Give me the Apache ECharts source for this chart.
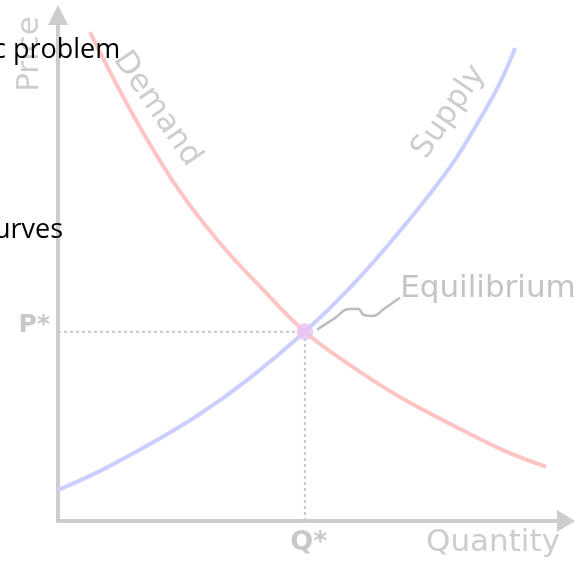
<!DOCTYPE html>
<html>
<head>
<meta charset="utf-8">
<script src="https://cdn.jsdelivr.net/npm/echarts@6/dist/echarts.min.js"></script>
<style>html,body{margin:0;padding:0;background:#fff}#c{width:578px;height:561px}</style>
</head>
<body>
<div id="c"></div>
<script>
// Supply curve (quantity, price)
const supplyQ = [0, 0.83, 1.81, 2.80, 3.78, 4.86, 5.75, 6.73, 7.72, 8.31, 8.70, 9.00];
const supplyP = [0.61, 0.99, 1.52, 2.12, 2.83, 3.74, 4.61, 5.73, 7.00, 7.95, 8.66, 9.35];
// Demand curve (quantity, price)
const demandQ = [0.63, 1.48, 2.34, 3.19, 3.98, 4.86, 5.75, 6.73, 7.72, 8.76, 9.61];
const demandP = [9.66, 8.02, 6.60, 5.49, 4.63, 3.74, 3.08, 2.45, 1.92, 1.40, 1.07];
// Equilibrium
const eqQ = 4.86, eqP = 3.74;
// Leader line from equilibrium point to its label
const leaderQ = [5.10, 5.45, 5.75, 5.91, 6.02, 6.18, 6.44, 6.73];
const leaderP = [3.78, 4.01, 4.19, 4.19, 4.07, 4.05, 4.21, 4.41];
// Tick labels
const xTickLabels = ['Q*'];
const yTickLabels = ['P*'];
const axisNames = { x: 'Quantity', y: 'Price' };
const curveNames = { supply: 'Supply', demand: 'Demand', eq: 'Equilibrium' };
const docText = ['c problem', 'urves'];

const zip = (a, b) => a.map((v, i) => [v, b[i]]);
const gray = '#cdcdcd';
const labelFont = '31px "DejaVu Sans"';

const chart = echarts.init(document.getElementById('c'), null, { renderer: 'canvas' });
chart.setOption({
  animation: false,
  grid: { left: 58, right: 12, top: 15, bottom: 40, containLabel: false },
  xAxis: {
    type: 'value', min: 0, max: 10,
    axisLine: { show: true, symbol: ['none', 'triangle'], symbolSize: [22, 18],
      lineStyle: { color: gray, width: 4 } },
    axisTick: { show: false }, splitLine: { show: false },
    axisLabel: { customValues: [eqQ], formatter: () => xTickLabels[0],
      color: '#c8c8c8', fontFamily: 'DejaVu Sans', fontWeight: 'bold', fontSize: 27, margin: 8, padding: [0, 0, 0, 8] }
  },
  yAxis: {
    type: 'value', min: 0, max: 10,
    axisLine: { show: true, symbol: ['none', 'triangle'], symbolSize: [20, 20],
      lineStyle: { color: gray, width: 4 } },
    axisTick: { show: false }, splitLine: { show: false },
    axisLabel: { customValues: [eqP], formatter: () => yTickLabels[0],
      color: '#c8c8c8', fontFamily: 'DejaVu Sans', fontWeight: 'bold', fontSize: 25, lineHeight: 12, margin: 8, verticalAlign: 'bottom' }
  },
  series: [
    { type: 'line', data: [[0, eqP], [eqQ, eqP]], symbol: 'none', silent: true,
      lineStyle: { color: '#c8c8c8', width: 2, type: [3, 3] }, z: 1 },
    { type: 'line', data: [[eqQ, 0], [eqQ, eqP]], symbol: 'none', silent: true,
      lineStyle: { color: '#c8c8c8', width: 2, type: [3, 3] }, z: 1 },
    { name: curveNames.demand, type: 'line', data: zip(demandQ, demandP), smooth: 0.4, symbol: 'none',
      lineStyle: { color: '#ffc4c4', width: 4 }, z: 2 },
    { name: curveNames.supply, type: 'line', data: zip(supplyQ, supplyP), smooth: 0.4, symbol: 'none',
      lineStyle: { color: '#cbcfff', width: 4 }, z: 3 },
    { type: 'line', data: zip(leaderQ, leaderP), smooth: 0.5, symbol: 'none',
      lineStyle: { color: '#bcbcbc', width: 2.5 }, z: 3 },
    { type: 'scatter', data: [[eqQ, eqP]], symbol: 'circle', symbolSize: 17,
      itemStyle: { color: '#e8c2f2' }, z: 4 }
  ],
  graphic: [
    { type: 'text', x: 30, y: 54, rotation: Math.PI / 2, z: 5,
      style: { text: axisNames.y, font: labelFont, fill: gray, align: 'center', verticalAlign: 'middle' } },
    { type: 'text', x: 493, y: 543, z: 5,
      style: { text: axisNames.x, font: labelFont, fill: gray, align: 'center', verticalAlign: 'middle' } },
    { type: 'text', x: 449, y: 112, rotation: 0.97, z: 5,
      style: { text: curveNames.supply, font: labelFont, fill: gray, align: 'center', verticalAlign: 'middle' } },
    { type: 'text', x: 157, y: 109, rotation: -0.97, z: 5,
      style: { text: curveNames.demand, font: labelFont, fill: gray, align: 'center', verticalAlign: 'middle' } },
    { type: 'text', x: 488, y: 289, z: 5,
      style: { text: curveNames.eq, font: labelFont, fill: '#c4c4c4', align: 'center', verticalAlign: 'middle' } },
    { type: 'text', x: -7, y: 50, z: 10,
      style: { text: docText[0], font: '27px "Open Sans"', fill: '#000', align: 'left', verticalAlign: 'middle' } },
    { type: 'text', x: -6, y: 230, z: 10,
      style: { text: docText[1], font: '27px "Open Sans"', fill: '#000', align: 'left', verticalAlign: 'middle' } }
  ]
});
</script>
</body>
</html>
